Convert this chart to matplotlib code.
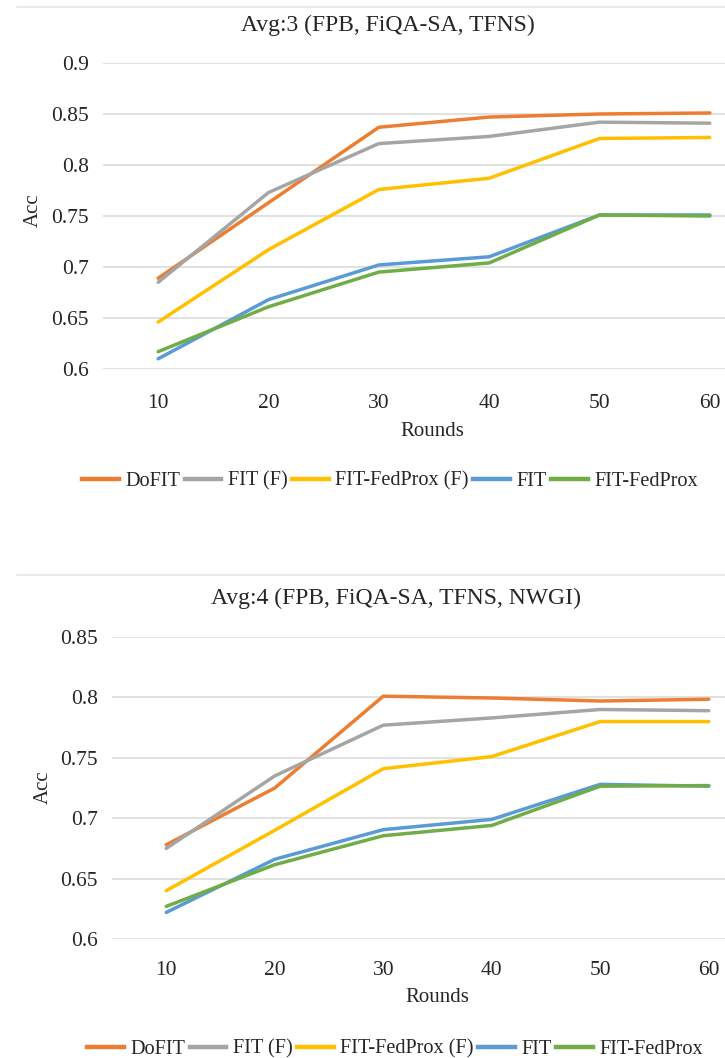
import matplotlib
matplotlib.use("Agg")
import matplotlib.pyplot as plt
from matplotlib.lines import Line2D

plt.rcParams['font.family'] = ['Liberation Serif', 'DejaVu Serif']

rounds = ["10", "20", "30", "40", "50", "60"]
series_names = ["DoFIT", "FIT (F)", "FIT-FedProx (F)", "FIT", "FIT-FedProx"]
colors = ["#ED7D31", "#A5A5A5", "#FFC000", "#5B9BD5", "#70AD47"]

# Avg:3 chart
avg3_dofit = [0.689, 0.763, 0.837, 0.847, 0.850, 0.851]
avg3_fit_f = [0.685, 0.773, 0.821, 0.828, 0.842, 0.841]
avg3_fedprox_f = [0.646, 0.717, 0.776, 0.787, 0.826, 0.827]
avg3_fit = [0.610, 0.668, 0.702, 0.710, 0.751, 0.751]
avg3_fedprox = [0.617, 0.661, 0.695, 0.704, 0.751, 0.750]

# Avg:4 chart
avg4_dofit = [0.678, 0.725, 0.801, 0.7995, 0.797, 0.7985]
avg4_fit_f = [0.675, 0.735, 0.777, 0.783, 0.790, 0.789]
avg4_fedprox_f = [0.640, 0.690, 0.741, 0.751, 0.780, 0.780]
avg4_fit = [0.622, 0.666, 0.6905, 0.699, 0.728, 0.7265]
avg4_fedprox = [0.627, 0.6615, 0.6855, 0.694, 0.7265, 0.727]

W, H = 725, 1058
fig = plt.figure(figsize=(W / 100, H / 100), dpi=100)


def px_axes(left, right, top, bottom):
    return fig.add_axes([left / W, 1 - bottom / H, (right - left) / W, (bottom - top) / H])


def draw_chart(ax, data, ylim, yticks, ylabels, title, title_xy, acc_xy, rounds_xy, legend_xy, xpad):
    x = list(range(len(rounds)))
    for vals, name, c in zip(data, series_names, colors):
        ax.plot(x, vals, color=c, lw=2.5, label=name, solid_capstyle='round', zorder=3)
    ax.set_xlim(-0.5, len(rounds) - 0.5)
    ax.set_ylim(*ylim)
    ax.set_xticks(x)
    ax.set_xticklabels(rounds)
    ax.set_yticks(yticks)
    ax.set_yticklabels(ylabels)
    ax.tick_params(length=0, labelsize=15.5, colors="#262626")
    ax.tick_params(axis='y', pad=10)
    ax.tick_params(axis='x', pad=xpad)
    for s in ax.spines.values():
        s.set_visible(False)
    ax.grid(axis='y', color="#D9D9D9", lw=1.1, zorder=0)
    ax.set_axisbelow(True)
    fig.text(title_xy[0] / W, 1 - title_xy[1] / H, title, ha='center', va='center',
             fontsize=17, color="#262626")
    fig.text(acc_xy[0] / W, 1 - acc_xy[1] / H, "Acc", ha='center', va='center',
             rotation=90, fontsize=15, color="#262626")
    fig.text(rounds_xy[0] / W, 1 - rounds_xy[1] / H, "Rounds", ha='center', va='center',
             fontsize=15, color="#262626")
    handles = [Line2D([0], [0], color=c, lw=3.2) for c in colors]
    fig.legend(handles, series_names, loc='center', ncol=5,
               bbox_to_anchor=(legend_xy[0] / W, 1 - legend_xy[1] / H),
               frameon=False, fontsize=14.6, handlelength=1.8, handletextpad=0.3,
               columnspacing=0.25, labelcolor="#262626")


ax1 = px_axes(103, 765, 63, 369)
draw_chart(ax1, [avg3_dofit, avg3_fit_f, avg3_fedprox_f, avg3_fit, avg3_fedprox],
           (0.6, 0.9), [0.6, 0.65, 0.7, 0.75, 0.8, 0.85, 0.9],
           ["0.6", "0.65", "0.7", "0.75", "0.8", "0.85", "0.9"],
           "Avg:3 (FPB, FiQA-SA, TFNS)", (388, 25), (33, 210), (432, 432), (390, 481), 18)

ax2 = px_axes(112, 763, 637, 939)
draw_chart(ax2, [avg4_dofit, avg4_fit_f, avg4_fedprox_f, avg4_fit, avg4_fedprox],
           (0.6, 0.85), [0.6, 0.65, 0.7, 0.75, 0.8, 0.85],
           ["0.6", "0.65", "0.7", "0.75", "0.8", "0.85"],
           "Avg:4 (FPB, FiQA-SA, TFNS, NWGI)", (396, 598), (43, 787), (437, 997), (395, 1049), 16)

# faint chart-area frame lines
for yline in (7, 575):
    fig.add_artist(Line2D([17 / W, 1.0], [1 - yline / H, 1 - yline / H],
                          transform=fig.transFigure, color="#E6E6E6", lw=1.2))

fig.savefig("out.png", dpi=100)
